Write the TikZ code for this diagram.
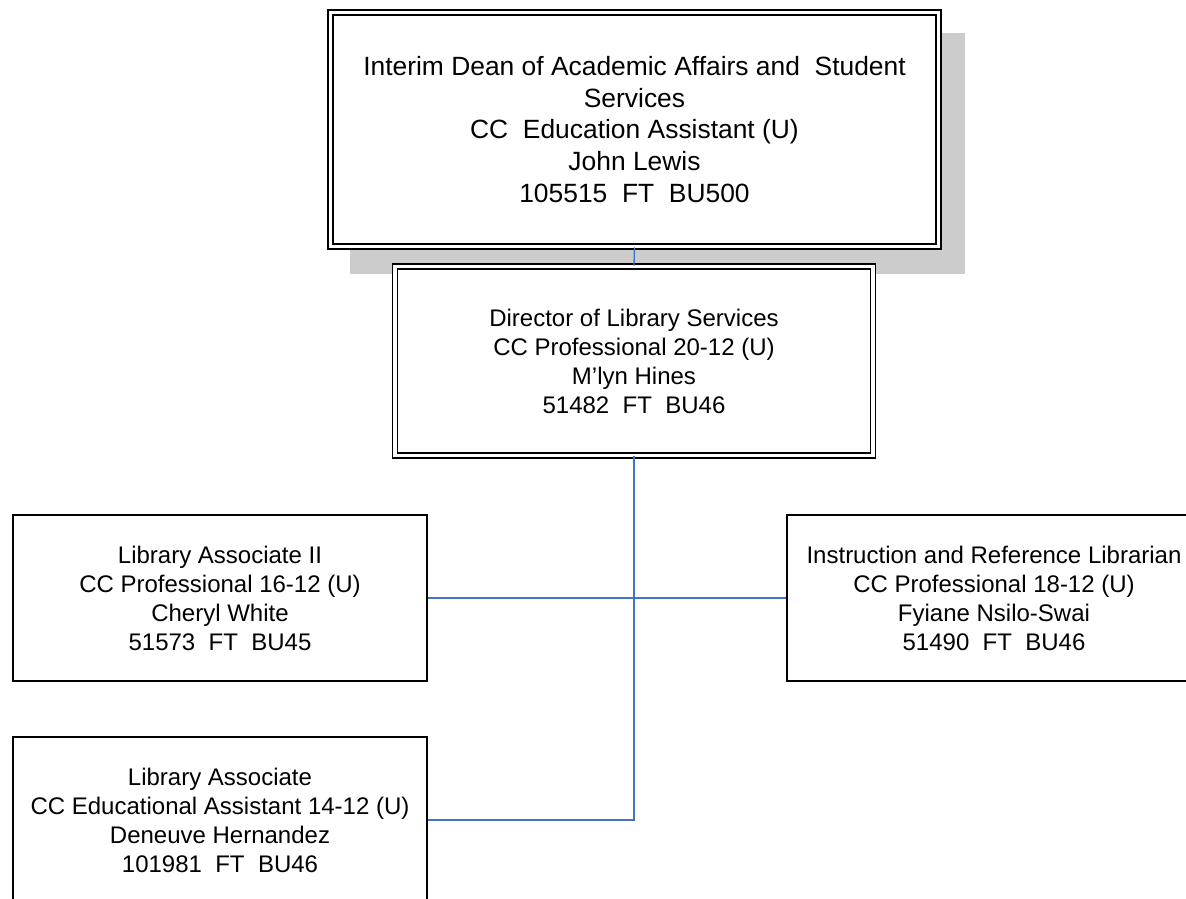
\documentclass[tikz,border=0pt]{standalone}
\usepackage{fontspec}
\setmainfont{Liberation Sans}
\definecolor{linkblue}{HTML}{4472C4}
\definecolor{shadowgray}{HTML}{CCCCCC}
\tikzset{
  x=0.75pt, y=-0.75pt,
  postbox/.style={draw=black, fill=white, line width=1pt, align=center,
    inner sep=0pt, minimum width=310.5pt, minimum height=124.5pt,
    font=\fontsize{18}{21.75}\selectfont},
  doublebox/.style={draw=black, fill=white, line width=1.3pt, double=white,
    double distance=2.5pt, align=center, inner sep=0pt},
  conn/.style={draw=linkblue, line width=1pt}
}
\begin{document}
\begin{tikzpicture}
\clip (0,0) rectangle (1186,899);
\fill[white] (0,0) rectangle (1186,899);

% drop shadow behind the top post
\fill[shadowgray] (350,33) rectangle (965,274);

\node[doublebox, minimum width=456pt, minimum height=175.5pt,
      font=\fontsize{19.8}{23.8}\selectfont] (dean) at (634.5,129.5)
  {Interim Dean of Academic Affairs and\ \ Student\\Services\\CC\ \ Education Assistant (U)\\John Lewis\\105515\ \ FT\ \ BU500};

\node[doublebox, minimum width=358.5pt, minimum height=141.75pt,
      font=\fontsize{18}{21.75}\selectfont] (dir) at (634,361)
  {Director of Library Services\\CC Professional 20-12 (U)\\M’lyn Hines\\51482\ \ FT\ \ BU46};

\node[postbox] (assoc2) at (220,598)
  {Library Associate II\\CC Professional 16-12 (U)\\Cheryl White\\51573\ \ FT\ \ BU45};

\node[postbox] (instr) at (994,598)
  {Instruction and Reference Librarian\\CC Professional 18-12 (U)\\Fyiane Nsilo-Swai\\51490\ \ FT\ \ BU46};

\node[postbox] (assoc) at (220,820)
  {Library Associate\\CC Educational Assistant 14-12 (U)\\Deneuve Hernandez\\101981\ \ FT\ \ BU46};

% reporting lines
\draw[conn] (dean.south) -- (dir.north);
\draw[conn] (dir.south) -- (dir.south |- assoc.east) -- (assoc.east);
\draw[conn] (assoc2.east) -- (instr.west);
\end{tikzpicture}
\end{document}
